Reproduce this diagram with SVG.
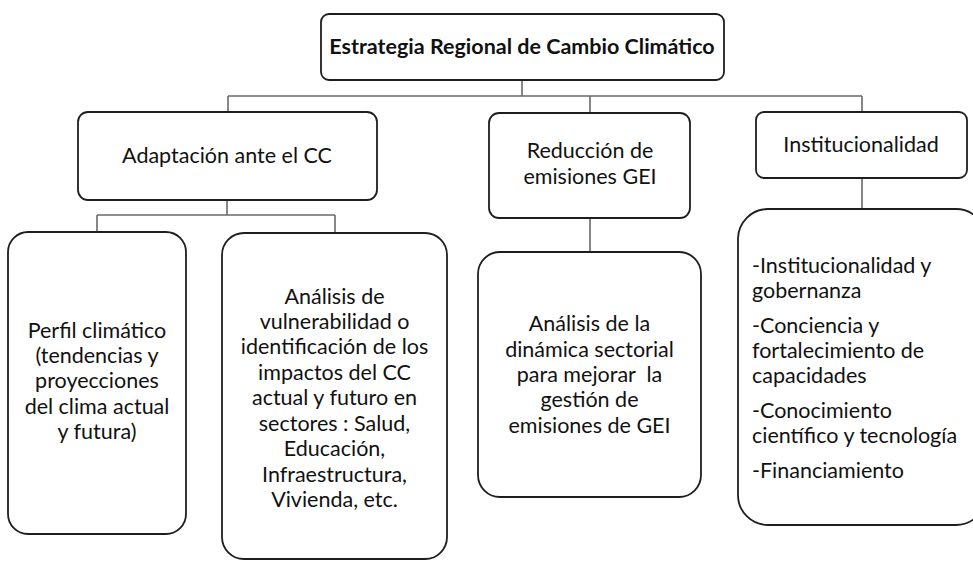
<svg xmlns="http://www.w3.org/2000/svg" width="973" height="561" viewBox="0 0 973 561">
<style>
.box{fill:#fff;stroke:#1e1e1e;stroke-width:1.8}
.conn{fill:none;stroke:#6a6a6a;stroke-width:1.6}
text{font-family:Lato,"Liberation Sans",sans-serif;font-size:21.5px;fill:#111}
.c{text-anchor:middle}
.b{font-weight:bold}
</style>
<rect width="973" height="561" fill="#fff"/>
<g id="connectors">
<path class="conn" d="M522 80V96M228 96H862M228 96V112M590 96V113M862 96V112"/>
<path class="conn" d="M227 200V215M97 215H335M97 215V232M335 215V233"/>
<path class="conn" d="M590 218V252"/>
<path class="conn" d="M862 178V209"/>
</g>
<g id="root">
<rect class="box" x="321" y="14" width="403" height="66" rx="8"/>
<text class="c b" x="522" y="54">Estrategia Regional de Cambio Climático</text>
</g>
<g id="adaptacion">
<rect class="box" x="78" y="112" width="299" height="88" rx="10"/>
<text class="c" x="227" y="163">Adaptación ante el CC</text>
</g>
<g id="reduccion">
<rect class="box" x="489" y="113" width="201" height="105" rx="10"/>
<text class="c" x="590" y="158">Reducción de</text>
<text class="c" x="590" y="184">emisiones GEI</text>
</g>
<g id="institucionalidad">
<rect class="box" x="756" y="112" width="211" height="66" rx="8"/>
<text class="c" x="861" y="152">Institucionalidad</text>
</g>
<g id="perfil">
<rect class="box" x="8" y="232" width="178" height="302" rx="20"/>
<text class="c" x="97" y="338">Perfil climático</text>
<text class="c" x="97" y="363">(tendencias y</text>
<text class="c" x="97" y="388">proyecciones</text>
<text class="c" x="97" y="414">del clima actual</text>
<text class="c" x="97" y="439">y futura)</text>
</g>
<g id="vulnerabilidad">
<rect class="box" x="222" y="233" width="225" height="326" rx="22"/>
<text class="c" x="334.5" y="304">Análisis de</text>
<text class="c" x="334.5" y="329">vulnerabilidad o</text>
<text class="c" x="334.5" y="354">identificación de los</text>
<text class="c" x="334.5" y="380">impactos del CC</text>
<text class="c" x="334.5" y="405">actual y futuro en</text>
<text class="c" x="334.5" y="431">sectores : Salud,</text>
<text class="c" x="334.5" y="456">Educación,</text>
<text class="c" x="334.5" y="482">Infraestructura,</text>
<text class="c" x="334.5" y="507">Vivienda, etc.</text>
</g>
<g id="dinamica">
<rect class="box" x="478" y="252" width="223" height="245" rx="22"/>
<text class="c" x="589.5" y="331">Análisis de la</text>
<text class="c" x="589.5" y="357">dinámica sectorial</text>
<text class="c" x="589.5" y="382">para mejorar&#160; la</text>
<text class="c" x="589.5" y="407">gestión de</text>
<text class="c" x="589.5" y="433">emisiones de GEI</text>
</g>
<g id="lista">
<rect class="box" x="738" y="209" width="248" height="316" rx="30"/>
<text x="752" y="273">-Institucionalidad y</text>
<text x="752" y="298">gobernanza</text>
<text x="752" y="333">-Conciencia y</text>
<text x="752" y="358">fortalecimiento de</text>
<text x="752" y="383">capacidades</text>
<text x="752" y="418">-Conocimiento</text>
<text x="752" y="443">científico y tecnología</text>
<text x="752" y="478">-Financiamiento</text>
</g>
</svg>
